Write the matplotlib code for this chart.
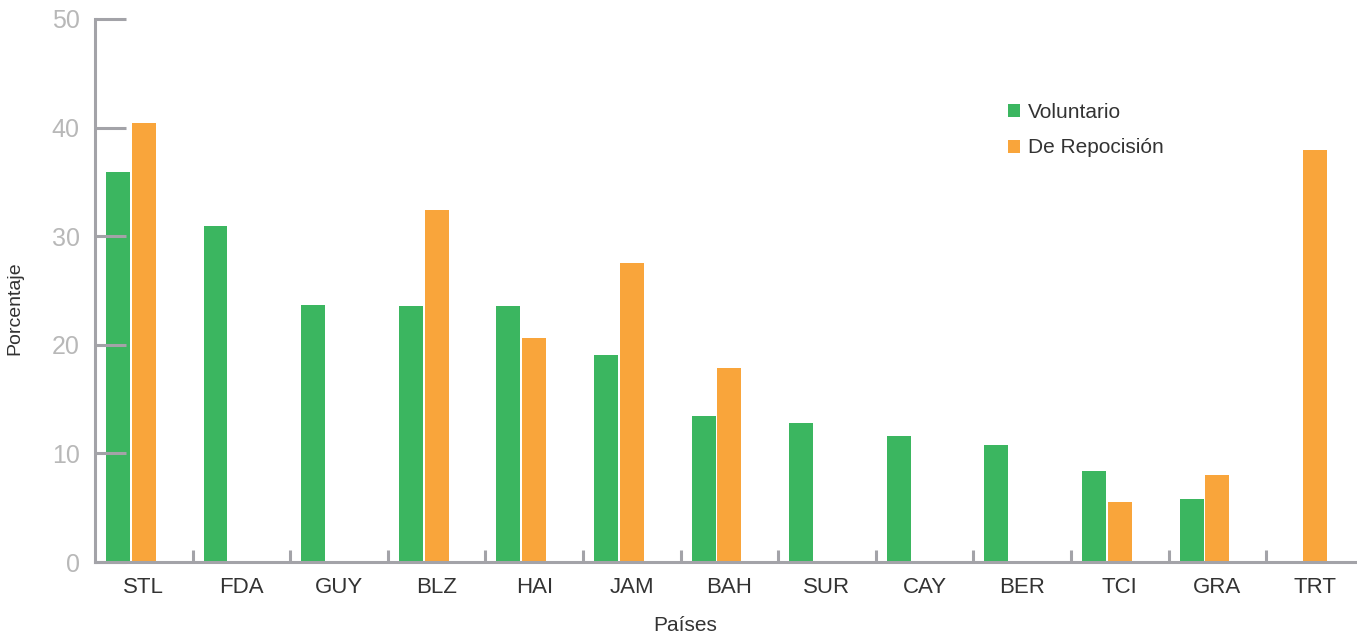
import matplotlib.pyplot as plt
import numpy as np

paises = ["STL", "FDA", "GUY", "BLZ", "HAI", "JAM", "BAH", "SUR", "CAY", "BER", "TCI", "GRA", "TRT"]
voluntario = [35.9, 30.9, 23.7, 23.6, 23.6, 19.1, 13.4, 12.8, 11.6, 10.8, 8.4, 5.8, 0]
reposicion = [40.4, 0, 0, 32.4, 20.6, 27.5, 17.9, 0, 0, 0, 5.5, 8.0, 37.9]

VERDE = "#3bb660"
NARANJA = "#f9a53b"
GRIS = "#a3a3a8"


def plot():
    plt.rcParams["font.family"] = ["Liberation Sans", "DejaVu Sans"]
    fig = plt.figure(figsize=(13.57, 6.35), dpi=100)
    ax = fig.add_axes([95 / 1357, 1 - 562 / 635, 1 - 95 / 1357, (562 - 19) / 635])

    x = np.arange(len(paises))
    w = 0.245
    ax.bar(x - 0.265, voluntario, width=w, color=VERDE, label="Voluntario")
    ax.bar(x, reposicion, width=w, color=NARANJA, label="De Repocisión")

    ax.set_xlim(-0.5, 12.43)
    ax.set_ylim(0, 50)

    for s in ["top", "right"]:
        ax.spines[s].set_visible(False)
    for s in ["left", "bottom"]:
        ax.spines[s].set_color(GRIS)
        ax.spines[s].set_linewidth(2.2)

    ax.set_yticks([0, 10, 20, 30, 40, 50])
    ax.tick_params(axis="y", direction="in", length=22, width=2.2, color=GRIS,
                   labelcolor="#b8b8b8", labelsize=18, pad=11)

    ax.set_xticks(x)
    ax.set_xticklabels(paises)
    ax.set_xticks(np.arange(0.5, 12, 1), minor=True)
    ax.tick_params(axis="x", which="major", length=0, labelsize=16,
                   labelcolor="#333333", pad=11)
    ax.tick_params(axis="x", which="minor", direction="in", length=9,
                   width=2.2, color=GRIS)

    ax.set_xlabel("Países", fontsize=15, color="#333333", labelpad=12)
    ax.xaxis.set_label_coords(0.468, -0.1)
    ax.set_ylabel("Porcentaje", fontsize=14, color="#333333", labelpad=16)
    ax.yaxis.set_label_coords(-0.057, 0.468)

    ax.legend(loc="upper left", bbox_to_anchor=(989 / 1357, 1 - 84 / 635),
              bbox_transform=fig.transFigure, frameon=False, fontsize=15,
              handlelength=0.58, handleheight=0.58, handletextpad=0.4,
              labelspacing=0.8, labelcolor="#333333")

    fig.savefig("out.png", dpi=100)
    return fig, ax


if __name__ == '__main__':
    plot()
